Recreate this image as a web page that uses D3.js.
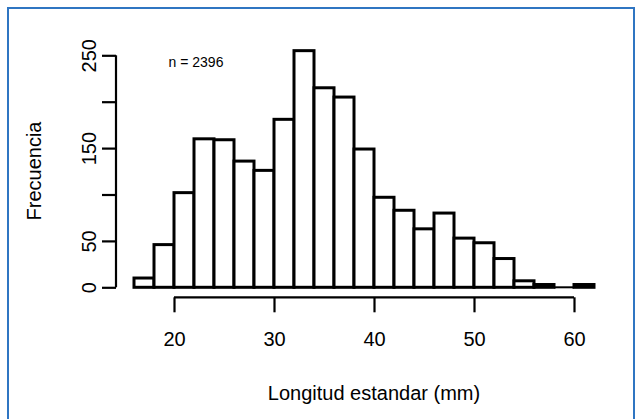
<!DOCTYPE html>
<html>
<head>
<meta charset="utf-8">
<script src="https://cdn.jsdelivr.net/npm/d3@7"></script>
<style>
  body { margin: 0; background: #fff; }
  svg text { font-family: "Liberation Sans", Arial, sans-serif; fill: #000; }
</style>
</head>
<body>
<div id="chart"></div>
<script>
// Histogram data: bins of width 2 mm
const binStarts = [16, 18, 20, 22, 24, 26, 28, 30, 32, 34, 36, 38, 40, 42, 44, 46, 48, 50, 52, 54, 56, 58, 60];
const counts = [10, 46, 102, 160, 159, 136, 126, 181, 255, 215, 205, 149, 97, 83, 63, 80, 53, 48, 31, 7, 3, 0, 3];
const xTicks = [20, 30, 40, 50, 60];
const yTicks = [0, 50, 100, 150, 200, 250];
const yTickLabels = ["0", "50", "", "150", "", "250"];
const binWidth = 2;

const width = 642;
const height = 419;

const svg = d3.select("#chart")
  .append("svg")
  .attr("width", width)
  .attr("height", height);

// frame
svg.append("rect")
  .attr("x", 8)
  .attr("y", 8)
  .attr("width", 626)
  .attr("height", 420)
  .attr("fill", "none")
  .attr("stroke", "#2f75c2")
  .attr("stroke-width", 2);

// Scales
const x = d3.scaleLinear().domain([20, 60]).range([174, 574]);
const y = d3.scaleLinear().domain([0, 250]).range([287.3, 55.3]);

const bins = counts.map((c, i) => ({ x0: binStarts[i], n: c }));

// Bars
svg.selectAll(".bar")
  .data(bins.filter(d => d.n > 0))
  .enter()
  .append("rect")
  .attr("class", "bar")
  .attr("x", d => x(d.x0))
  .attr("y", d => y(d.n))
  .attr("width", x(binWidth) - x(0))
  .attr("height", d => y(0) - y(d.n))
  .attr("fill", "#fff")
  .attr("stroke", "#000")
  .attr("stroke-width", 3);

// empty bins drawn as a flat line
svg.selectAll(".empty")
  .data(bins.filter(d => d.n === 0))
  .enter()
  .append("line")
  .attr("class", "empty")
  .attr("x1", d => x(d.x0))
  .attr("x2", d => x(d.x0 + binWidth))
  .attr("y1", y(0))
  .attr("y2", y(0))
  .attr("stroke", "#000")
  .attr("stroke-width", 2);

// Y axis (R style)
const yAxis = svg.append("g")
  .attr("transform", "translate(116,0)")
  .call(d3.axisLeft(y).tickValues(yTicks).tickSize(14).tickFormat((d, i) => yTickLabels[i]));
yAxis.select(".domain").attr("d", `M0,${y(0)}V${y(250)}`).attr("stroke-width", 2.2);
yAxis.selectAll(".tick line").attr("stroke-width", 2.2);
yAxis.selectAll(".tick text")
  .attr("font-size", 20)
  .attr("text-anchor", "middle")
  .attr("x", 0)
  .attr("dy", 0)
  .attr("transform", "translate(-27,0) rotate(-90)")
  .attr("y", 0)
  .attr("dominant-baseline", "central");

// X axis
const xAxis = svg.append("g")
  .attr("transform", "translate(0,297.3)")
  .call(d3.axisBottom(x).tickValues(xTicks).tickSize(15).tickFormat(d3.format("d")));
xAxis.select(".domain").attr("d", `M${x(20)},0H${x(60)}`).attr("stroke-width", 2.2);
xAxis.selectAll(".tick line").attr("stroke-width", 2.2);
xAxis.selectAll(".tick text")
  .attr("font-size", 20)
  .attr("y", 35)
  .attr("dy", "0.71em");

// Labels
svg.append("text")
  .attr("x", 374)
  .attr("y", 400)
  .attr("text-anchor", "middle")
  .attr("font-size", 20)
  .text("Longitud estandar (mm)");

svg.append("text")
  .attr("transform", "translate(41,171) rotate(-90)")
  .attr("text-anchor", "middle")
  .attr("font-size", 20)
  .text("Frecuencia");

svg.append("text")
  .attr("x", 196)
  .attr("y", 67)
  .attr("text-anchor", "middle")
  .attr("font-size", 14)
  .text("n = 2396");
</script>
</body>
</html>
